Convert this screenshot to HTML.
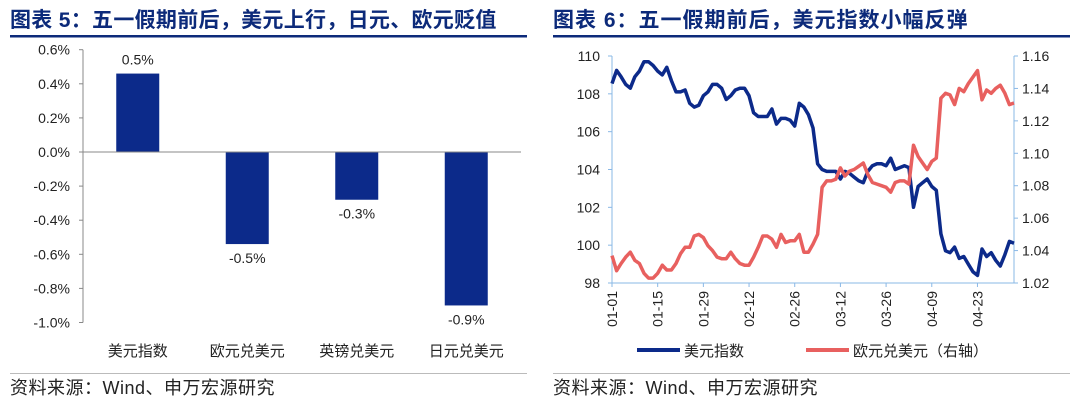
<!DOCTYPE html>
<html><head><meta charset="utf-8">
<style>
body{margin:0;background:#fff;width:1080px;height:403px;overflow:hidden;font-family:"Liberation Sans","Noto Sans CJK SC",sans-serif;}
svg text{font-family:"Liberation Sans","Noto Sans CJK SC",sans-serif;}
</style></head><body>
<svg id="root" width="1080" height="403" viewBox="0 0 1080 403" xmlns="http://www.w3.org/2000/svg">
<text x="10" y="27" font-size="21" font-weight="bold" fill="#0c2a7a" letter-spacing="0.3">图表 5：五一假期前后，美元上行，日元、欧元贬值</text>
<rect x="10" y="35" width="517" height="2.5" fill="#0c2a7a"/>
<text x="553" y="27" font-size="21" font-weight="bold" fill="#0c2a7a" letter-spacing="1">图表 6：五一假期前后，美元指数小幅反弹</text>
<rect x="553" y="35" width="517" height="2.5" fill="#0c2a7a"/>
<rect x="10" y="373" width="517" height="1" fill="#bbb"/>
<rect x="553" y="373" width="517" height="1" fill="#bbb"/>
<text x="10" y="394" font-size="18" fill="#222" letter-spacing="0.5">资料来源：Wind、申万宏源研究</text>
<text x="553" y="394" font-size="18" fill="#222" letter-spacing="0.5">资料来源：Wind、申万宏源研究</text>
<g id="left"></g>
<g id="right"></g>
</svg>
<script>
const barCats=["美元指数","欧元兑美元","英镑兑美元","日元兑美元"];
const barVals=[0.46,-0.54,-0.28,-0.90];
const barLabels=["0.5%","-0.5%","-0.3%","-0.9%"];
const barTicks=[0.6,0.4,0.2,0.0,-0.2,-0.4,-0.6,-0.8,-1.0];

const dateLabels=["01-01","01-15","01-29","02-12","02-26","03-12","03-26","04-09","04-23"];
const dxy=[108.54,109.24,108.9,108.5,108.3,108.9,109.2,109.7,109.7,109.5,109.2,109.0,109.4,108.7,108.1,108.1,108.2,107.5,107.3,107.4,107.9,108.1,108.5,108.5,108.3,107.7,107.9,108.2,108.3,108.3,107.9,107.0,106.8,106.8,106.8,107.2,106.4,106.7,106.7,106.6,106.3,107.5,107.3,106.9,106.2,104.3,104.0,103.9,103.9,103.9,103.5,103.9,103.8,103.6,103.4,103.3,103.9,104.2,104.3,104.3,104.2,104.6,104.0,104.1,104.2,104.1,102.0,103.1,103.3,103.5,103.1,102.9,100.6,99.7,99.6,99.9,99.3,99.4,99.0,98.6,98.4,99.8,99.4,99.6,99.2,98.9,99.5,100.2,100.1];
const eurusd=[1.0369,1.0276,1.032,1.036,1.039,1.034,1.032,1.026,1.023,1.023,1.026,1.031,1.028,1.028,1.032,1.038,1.042,1.042,1.049,1.050,1.048,1.043,1.040,1.036,1.035,1.035,1.039,1.035,1.032,1.031,1.031,1.036,1.042,1.049,1.049,1.047,1.042,1.050,1.045,1.046,1.046,1.050,1.039,1.039,1.044,1.050,1.079,1.083,1.083,1.084,1.091,1.086,1.089,1.090,1.092,1.094,1.087,1.082,1.081,1.080,1.079,1.076,1.082,1.083,1.083,1.081,1.105,1.098,1.094,1.090,1.095,1.097,1.134,1.137,1.136,1.130,1.140,1.138,1.143,1.147,1.151,1.133,1.139,1.137,1.140,1.142,1.137,1.130,1.131];
const leftTicks=[110,108,106,104,102,100,98];
const rightTicks=[1.16,1.14,1.12,1.10,1.08,1.06,1.04,1.02];

const NS="http://www.w3.org/2000/svg";
function mk(tag,attrs,parent,txt){const e=document.createElementNS(NS,tag);for(const k in attrs)e.setAttribute(k,attrs[k]);if(txt!==undefined)e.textContent=txt;parent.appendChild(e);return e;}

const L=document.getElementById('left');
const lx0=83,lx1=521,ly=v=>152-(v/0.2)*34.1;
const band=(lx1-lx0)/barCats.length;
mk('line',{x1:lx0,y1:ly(0.6),x2:lx0,y2:ly(-1.0),stroke:'#888','stroke-width':1},L);
barTicks.forEach(t=>{
  const y=ly(t);
  const tk=mk('line',{x1:lx0-4,y1:y,x2:lx0,y2:y,stroke:'#888'},L);
  
  
  const tl=mk('text',{x:lx0-13,y:y+5,'font-size':14,'text-anchor':'end',fill:'#222'},L,t.toFixed(1)+'%');
  
  
});
barVals.forEach((v,i)=>{
  const cx=lx0+band*(i+0.5);
  const y0=ly(0),y1=ly(v);
  const r=mk('rect',{x:cx-21.5,y:Math.min(y0,y1),width:43,height:Math.abs(y1-y0),fill:'#0c2a8a'},L);
  
  
  const ty=v>=0?y1-9:y1+19;
  const lb=mk('text',{x:cx,y:ty,'font-size':14,'text-anchor':'middle',fill:'#222'},L,barLabels[i]);
  
  
  const cl=mk('text',{x:cx,y:356,'font-size':15,'text-anchor':'middle',fill:'#222'},L,barCats[i]);
  
  
});
mk('line',{x1:lx0,y1:ly(0),x2:lx1,y2:ly(0),stroke:'#888','stroke-width':1},L);

const R=document.getElementById('right');
const rx0=612,rx1=1014,ry0=56,ry1=283;
const n=dxy.length;
const xs=i=>rx0+(rx1-rx0)*i/(n-1);
const yl=v=>ry0+(110-v)/(110-98)*(ry1-ry0);
const yr=v=>ry0+(1.16-v)/(1.16-1.02)*(ry1-ry0);
const ax='#8ab8e6';
mk('line',{x1:rx0,y1:ry0,x2:rx0,y2:ry1,stroke:ax},R);
mk('line',{x1:rx1,y1:ry0,x2:rx1,y2:ry1,stroke:ax},R);
mk('line',{x1:rx0,y1:ry1,x2:rx1,y2:ry1,stroke:ax},R);
leftTicks.forEach(t=>{
  const y=yl(t);
  mk('line',{x1:rx0-4,y1:y,x2:rx0,y2:y,stroke:ax},R);
  const tl=mk('text',{x:rx0-12,y:y+5,'font-size':14,'text-anchor':'end',fill:'#222'},R,String(t));
  
  
});
rightTicks.forEach(t=>{
  const y=yr(t);
  mk('line',{x1:rx1,y1:y,x2:rx1+4,y2:y,stroke:ax},R);
  const tl=mk('text',{x:rx1+8,y:y+5,'font-size':14,fill:'#222'},R,t.toFixed(2));
  
  
});
dateLabels.forEach((d,k)=>{
  const x=xs(k*10);
  mk('line',{x1:x,y1:ry1,x2:x,y2:ry1+4,stroke:ax},R);
  const tl=mk('text',{x:0,y:0,'font-size':14,'text-anchor':'end',fill:'#222',transform:`translate(${x+5},${ry1+8}) rotate(-90)`},R,d);
  
  
});
const p1=mk('polyline',{points:dxy.map((v,i)=>xs(i).toFixed(1)+','+yl(v).toFixed(1)).join(' '),fill:'none',stroke:'#0c2a8a','stroke-width':3.5,'stroke-linejoin':'round'},R);


const p2=mk('polyline',{points:eurusd.map((v,i)=>xs(i).toFixed(1)+','+yr(v).toFixed(1)).join(' '),fill:'none',stroke:'#e8605f','stroke-width':3.5,'stroke-linejoin':'round'},R);


const lg1=mk('line',{x1:637,y1:350,x2:680,y2:350,stroke:'#0c2a8a','stroke-width':4},R);


const lt1=mk('text',{x:684,y:356,'font-size':15,fill:'#222'},R,'美元指数');


const lg2=mk('line',{x1:806,y1:350,x2:849,y2:350,stroke:'#e8605f','stroke-width':4},R);


const lt2=mk('text',{x:853,y:356,'font-size':15,fill:'#222'},R,'欧元兑美元（右轴）');


</script>
</body></html>
